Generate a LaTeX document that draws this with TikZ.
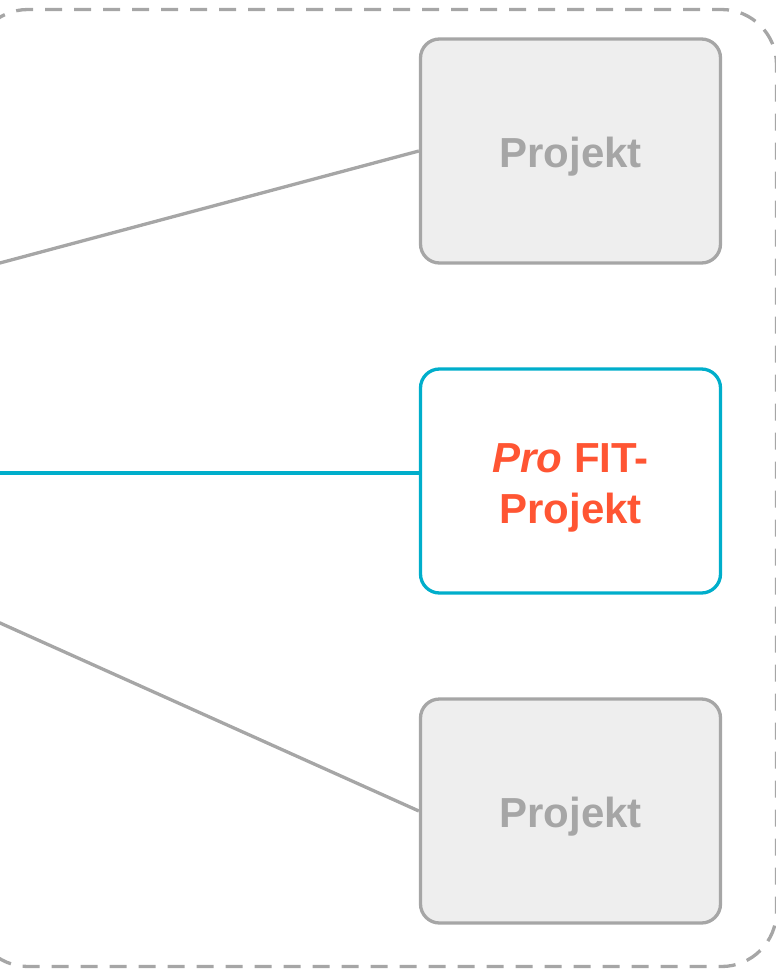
\documentclass[tikz,border=0pt]{standalone}
\usepackage{fontspec}
\setmainfont{Liberation Sans}
\definecolor{lgray}{HTML}{A6A6A6}
\definecolor{lfill}{HTML}{EEEEEE}
\definecolor{cyanb}{RGB}{0,174,203}
\definecolor{orng}{RGB}{255,85,51}
\begin{document}
\begin{tikzpicture}[x=1bp,y=-1bp,
  box/.style={draw, rounded corners=19bp, line width=3.3bp, minimum width=300bp, minimum height=224bp,
    font=\fontsize{42bp}{51bp}\selectfont\bfseries, align=center, inner sep=0pt},
  graybox/.style={box, draw=lgray, fill=lfill, text=lgray, text height=32bp, text depth=0bp},
  hibox/.style={box, draw=cyanb, fill=white, text=orng, text height=84bp, text depth=0bp},
  link/.style={line width=3.3bp, lgray},
  hilink/.style={line width=3.3bp, cyanb}]
\useasboundingbox (0,0) rectangle (776,969);
\draw[lgray, line width=3.3bp, dash pattern=on 17bp off 12bp, rounded corners=55bp]
  (-27,9.5) rectangle (776.5,966.5);
\node[graybox] (p1) at (570.5,151) {Projekt};
\node[hibox] (p2) at (570.5,481) {\textit{Pro} FIT-\\Projekt};
\node[graybox] (p3) at (570.5,811) {Projekt};
\coordinate (s1) at (-20,268.3);
\coordinate (s2) at (-20,473);
\coordinate (s3) at (-20,614);
\draw[link] (s1) -- (p1.west);
\draw[hilink] (s2) -- (s2 -| p2.west);
\draw[link] (s3) -- (p3.west);
\end{tikzpicture}
\end{document}
